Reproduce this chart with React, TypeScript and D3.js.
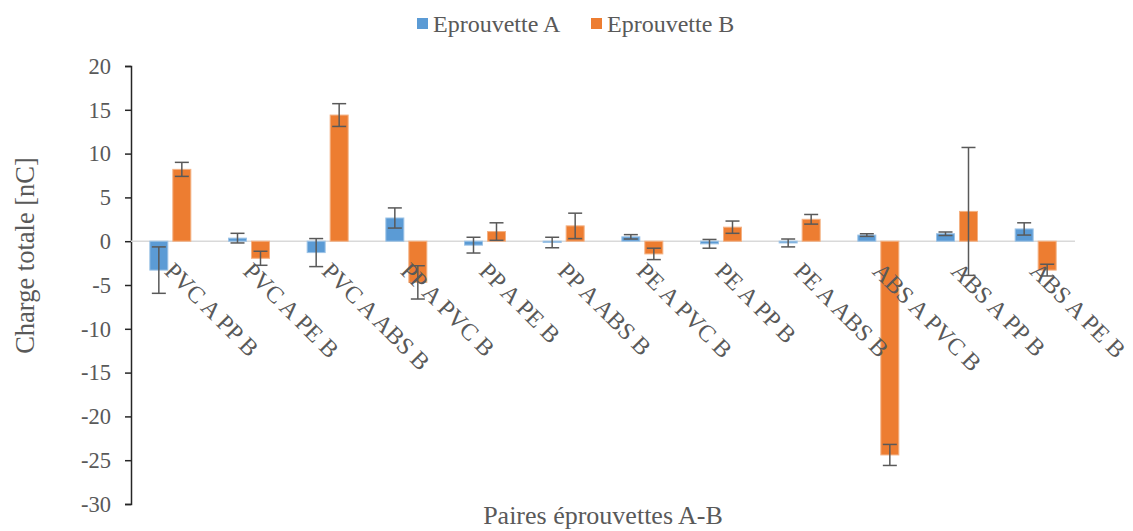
import React, { useEffect, useRef } from "react";
import * as d3 from "d3";

const categories = [
  "PVC A PP B",
  "PVC A PE B",
  "PVC A ABS B",
  "PP A PVC B",
  "PP A PE B",
  "PP A ABS B",
  "PE A PVC B",
  "PE A PP B",
  "PE A ABS B",
  "ABS A PVC B",
  "ABS A PP B",
  "ABS A PE B",
];
const seriesNames = ["Eprouvette A", "Eprouvette B"];
const valuesA = [-3.3, 0.35, -1.3, 2.65, -0.45, -0.15, 0.5, -0.3, -0.2, 0.7, 0.85, 1.4];
const errorsA = [2.65, 0.55, 1.6, 1.15, 0.9, 0.6, 0.25, 0.5, 0.45, 0.15, 0.2, 0.7];
const valuesB = [8.2, -1.95, 14.4, -4.7, 1.1, 1.75, -1.45, 1.6, 2.5, -24.4, 3.4, -3.3];
const errorsB = [0.8, 0.8, 1.3, 1.9, 1.0, 1.45, 0.65, 0.7, 0.55, 1.2, 7.3, 0.67];
const yTicks = [-30, -25, -20, -15, -10, -5, 0, 5, 10, 15, 20];

const W = 1133;
const H = 531;
const FONT = "'Liberation Serif', 'Times New Roman', serif";
const colors = ["#5b9bd5", "#ed7d31"];
const strokes = ["#9dc3e6", "#f4b183"];

const App = () => {
  const ref = useRef<SVGSVGElement>(null);

  useEffect(() => {
    const svg = d3.select(ref.current);
    svg.selectAll("*").remove();

    const left = 131;
    const right = 1075;
    const top = 66;
    const bottom = 504;

    const x = d3.scaleBand().domain(categories).range([left, right]).padding(0);
    const inner = d3.scaleBand().domain(["A", "B"]).range([0, 41]).paddingInner(0.217);
    const y = d3.scaleLinear().domain([-30, 20]).range([bottom, top]);

    const rows = categories.map((c, i) => ({
      cat: c,
      bars: [
        { key: "A", v: valuesA[i], e: errorsA[i], s: 0 },
        { key: "B", v: valuesB[i], e: errorsB[i], s: 1 },
      ],
    }));

    // y axis
    const yAxis = svg
      .append("g")
      .attr("transform", `translate(${left},0)`)
      .call(
        d3
          .axisLeft(y)
          .tickValues(yTicks)
          .tickFormat((d) => String(d))
          .tickSize(6)
          .tickSizeOuter(6)
          .tickPadding(14)
      );
    yAxis.select(".domain").attr("stroke", "#262626").attr("stroke-width", 1.5);
    yAxis.selectAll(".tick line").attr("stroke", "#262626").attr("stroke-width", 1.5);
    yAxis
      .selectAll(".tick text")
      .attr("fill", "#595959")
      .attr("font-family", FONT)
      .attr("font-size", 22.5);

    // zero line
    svg
      .append("line")
      .attr("x1", left)
      .attr("x2", right)
      .attr("y1", y(0))
      .attr("y2", y(0))
      .attr("stroke", "#d9d9d9")
      .attr("stroke-width", 1.5);

    // bars
    const groups = svg
      .selectAll("g.cat")
      .data(rows)
      .enter()
      .append("g")
      .attr("class", "cat")
      .attr("transform", (d) => `translate(${x(d.cat)! + x.bandwidth() / 2 - 20.5},0)`);

    groups
      .selectAll("rect")
      .data((d) => d.bars)
      .enter()
      .append("rect")
      .attr("x", (d) => inner(d.key)!)
      .attr("width", inner.bandwidth())
      .attr("y", (d) => y(Math.max(0, d.v)))
      .attr("height", (d) => Math.abs(y(d.v) - y(0)))
      .attr("fill", (d) => colors[d.s])
      .attr("stroke", (d) => strokes[d.s])
      .attr("stroke-width", 1);

    // category labels, drawn over the bars
    svg
      .selectAll("text.cat")
      .data(categories)
      .enter()
      .append("text")
      .attr("class", "cat")
      .attr("transform", (d) => `translate(${x(d)! + x.bandwidth() / 2 + 4},${y(0) + 20}) rotate(45)`)
      .attr("dy", "0.66em")
      .attr("fill", "#595959")
      .attr("font-family", FONT)
      .attr("font-size", 24)
      .text((d) => d);

    // error bars
    const err = groups
      .selectAll("g.err")
      .data((d) => d.bars)
      .enter()
      .append("g")
      .attr("class", "err")
      .attr("stroke", "#595959")
      .attr("stroke-width", 1.5);
    const cx = (d: { key: string }) => inner(d.key)! + inner.bandwidth() / 2;
    err
      .append("line")
      .attr("x1", cx)
      .attr("x2", cx)
      .attr("y1", (d) => y(d.v + d.e))
      .attr("y2", (d) => y(d.v - d.e));
    [1, -1].forEach((sign) => {
      err
        .append("line")
        .attr("x1", (d) => cx(d) - 7)
        .attr("x2", (d) => cx(d) + 7)
        .attr("y1", (d) => y(d.v + sign * d.e))
        .attr("y2", (d) => y(d.v + sign * d.e));
    });

    // axis titles
    svg
      .append("text")
      .attr("transform", `translate(34,${(153 + 358) / 2}) rotate(-90)`)
      .attr("text-anchor", "middle")
      .attr("fill", "#595959")
      .attr("font-family", FONT)
      .attr("font-size", 26.5)
      .text("Charge totale [nC]");
    svg
      .append("text")
      .attr("x", 603)
      .attr("y", 524)
      .attr("text-anchor", "middle")
      .attr("fill", "#595959")
      .attr("font-family", FONT)
      .attr("font-size", 26)
      .text("Paires éprouvettes A-B");

    // legend
    const legendX = [417, 591];
    const legend = svg
      .selectAll("g.legend")
      .data(seriesNames)
      .enter()
      .append("g")
      .attr("class", "legend")
      .attr("transform", (_, i) => `translate(${legendX[i]},18)`);
    legend
      .append("rect")
      .attr("width", 11)
      .attr("height", 11)
      .attr("fill", (_, i) => colors[i]);
    legend
      .append("text")
      .attr("x", 16)
      .attr("y", 14)
      .attr("fill", "#595959")
      .attr("font-family", FONT)
      .attr("font-size", 24)
      .text((d) => d);
  }, []);

  return (
    <svg
      ref={ref}
      width={W}
      height={H}
      style={{ position: "absolute", left: 0, top: 0, background: "#fff" }}
    />
  );
};

export default App;
